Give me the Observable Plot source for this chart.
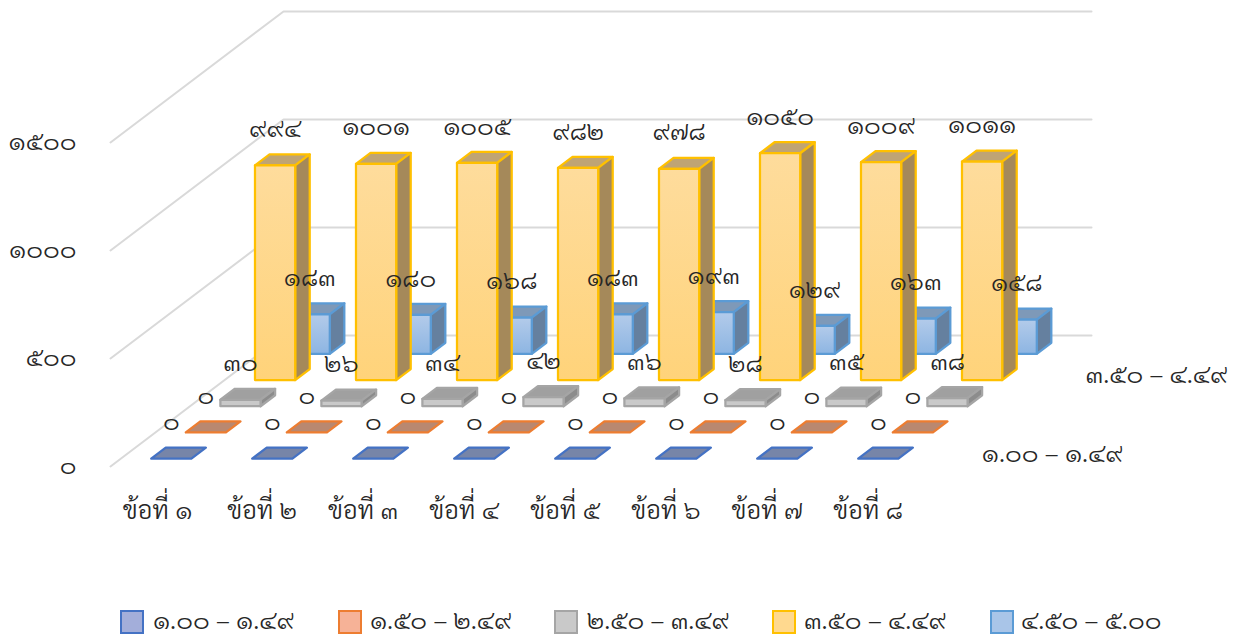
<!DOCTYPE html>
<html><head><meta charset="utf-8">
<script src="https://cdn.jsdelivr.net/npm/d3@7"></script>
<script src="https://cdn.jsdelivr.net/npm/@observablehq/plot@0.6"></script>
<style>
html,body{margin:0;padding:0;background:#fff;}
#chart svg{display:block;}
#legend{position:relative;height:37px;width:1244px;font-family:Sarabun,"Noto Sans Thai Looped","Noto Sans",sans-serif;font-weight:300;font-size:25.5px;color:#262626;}
#legend i{position:absolute;top:10px;width:20px;height:20px;border-width:2px;border-style:solid;}
#legend span{position:absolute;top:3px;white-space:nowrap;line-height:32px;}
</style></head><body>
<div id="chart"></div><div id="legend"></div>
<script>
const categories = ["ข้อที่ ๑","ข้อที่ ๒","ข้อที่ ๓","ข้อที่ ๔","ข้อที่ ๕","ข้อที่ ๖","ข้อที่ ๗","ข้อที่ ๘"];
const seriesNames = ["๑.๐๐ – ๑.๔๙","๑.๕๐ – ๒.๔๙","๒.๕๐ – ๓.๔๙","๓.๕๐ – ๔.๔๙","๔.๕๐ – ๕.๐๐"];
const s1 = [0,0,0,0,0,0,0,0];
const s2 = [0,0,0,0,0,0,0,0];
const s3 = [30,26,34,42,36,28,35,38];
const s4 = [994,1001,1005,982,978,1050,1009,1011];
const s5 = [183,180,168,183,193,129,163,158];
const seriesValues = [s1,s2,s3,s4,s5];
const yTicks = [0,500,1000,1500];
const styles = [
 {stroke:"#4472C4",front:"#7785A8",side:"#5d6b8c",top:"#7785A8",legend:"#A3AEDA"},
 {stroke:"#ED7D31",front:"#B98870",side:"#9c6f58",top:"#B98870",legend:"#F6B297"},
 {stroke:"#A5A5A5",front:"#C9C9C9",side:"#8C8C8C",top:"#A0A0A0",legend:"#C9C9C9"},
 {stroke:"#FFC000",front:"url(#gy)",side:"#A5895A",top:"#BFA474",legend:"#FFD98F"},
 {stroke:"#5B9BD5",front:"url(#gb)",side:"#65809F",top:"#7E99B8",legend:"#A9C5E8"}
];
const thai = n => String(n).replace(/\d/g,d=>"๐๑๒๓๔๕๖๗๘๙"[d]);
const DX=0.3426, DY=121.3, D0=0.3, D1=0.72, PAD=0.3, BW=0.398;
const P=(c,d,v)=>({x:c+d*DX,y:v+d*DY});
const quad=(pts)=>[...pts,pts[0]];
function faces(si,kind){
  const out=[];
  seriesValues[si].forEach((v,ci)=>{
    const a=ci+PAD,b=ci+PAD+BW,d0=si+D0,d1=si+D1;
    let q;
    if(kind==="front"){ if(v<=0) return; q=[P(a,d0,0),P(b,d0,0),P(b,d0,v),P(a,d0,v)];}
    if(kind==="side"){ if(v<=0) return; q=[P(b,d0,0),P(b,d1,0),P(b,d1,v),P(b,d0,v)];}
    if(kind==="top"){ q=[P(a,d0,v),P(b,d0,v),P(b,d1,v),P(a,d1,v)];}
    quad(q).forEach(p=>out.push({...p,id:ci}));
  });
  return out;
}
const marks=[];
marks.push(()=>{
  const defs=d3.create("svg:defs");
  [["gy","#FEDC9C","#FFD37A"],["gb","#B3CBEA","#8DB5E2"]].forEach(([id,a,b])=>{
    const g=defs.append("linearGradient").attr("id",id).attr("x1",0).attr("y1",0).attr("x2",0).attr("y2",1);
    g.append("stop").attr("offset","0").attr("stop-color",a);
    g.append("stop").attr("offset","1").attr("stop-color",b);
  });
  return defs.node();
});
const grid=yTicks.flatMap(v=>[P(0,0,v),P(0,5,v),P(8,5,v)].map(p=>({...p,v})));
marks.push(Plot.line(grid,{x:"x",y:"y",z:"v",stroke:"#D9D9D9",strokeWidth:2,strokeLinejoin:"miter"}));
for(let si=4;si>=0;si--){
  for(const kind of ["top","side","front"]){
    marks.push(Plot.line(faces(si,kind),{x:"x",y:"y",z:"id",fill:styles[si][kind],stroke:styles[si].stroke,strokeWidth:2.25,strokeLinejoin:"round"}));
  }
}
const txt="#262626";
const labels=seriesValues.flatMap((vals,si)=>vals.map((v,ci)=>({...P(ci+PAD+BW/2,si+D0,v),t:thai(v)})));
marks.push(Plot.text(labels,{x:"x",y:"y",text:"t",dy:-36.5,fontSize:25.5,fontWeight:300,fill:txt}));
marks.push(Plot.text(yTicks,{x:()=>0,y:d=>d,text:d=>thai(d),dx:-34,dy:-0.5,textAnchor:"end",fontSize:25.5,fontWeight:300,fill:txt}));
const catRows=categories.map((t,i)=>({t,i}));
marks.push(Plot.text(catRows.slice(0,1),{x:d=>d.i+0.5,y:()=>0,text:"t",dx:-3.5,dy:44,fontSize:25.5,fontWeight:300,fill:txt}));
marks.push(Plot.text(catRows.slice(1),{x:d=>d.i+0.5,y:()=>0,text:"t",dx:0,dy:44,fontSize:25.5,fontWeight:300,fill:txt}));
const depthLabels=[0,3].map(si=>({...P(8,si+0.5,0),t:seriesNames[si]}));
marks.push(Plot.text(depthLabels,{x:"x",y:"y",text:"t",dx:46,dy:0,textAnchor:"start",fontSize:25.5,fontWeight:300,fill:txt}));
const W=1244,H=600,px=101,py=0.216,x0=110,y0=466;
const chart=Plot.plot({width:W,height:H,margin:0,
  style:{background:"#fff",fontFamily:"Sarabun,'Noto Sans Thai Looped','Noto Sans',sans-serif"},
  x:{axis:null,domain:[-x0/px,(W-x0)/px],range:[0,W]},
  y:{axis:null,domain:[(y0-H)/py,y0/py],range:[H,0]},
  marks});
document.getElementById("chart").append(chart);
const lg=document.getElementById("legend");
const sx=[120,338,554,772,990],tx=[153,370,587,804,1021];
seriesNames.forEach((n,i)=>{
  const b=document.createElement("i");b.style.left=sx[i]+"px";b.style.background=styles[i].legend;b.style.borderColor=styles[i].stroke;lg.append(b);
  const s=document.createElement("span");s.style.left=tx[i]+"px";s.textContent=n;lg.append(s);
});
</script></body></html>
